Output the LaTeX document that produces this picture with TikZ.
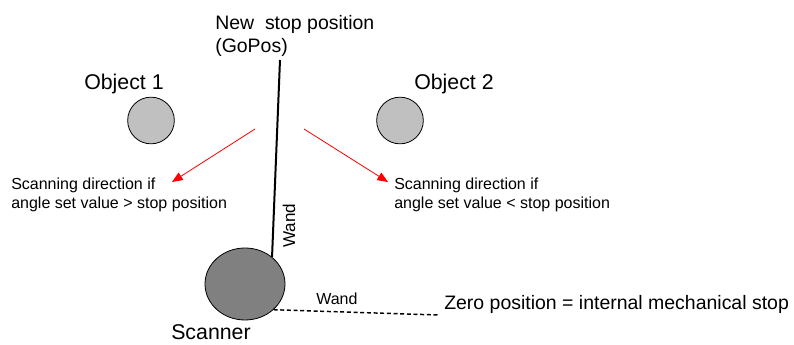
\documentclass[tikz,border=0pt]{standalone}
\usepackage{fontspec}
\setmainfont{Liberation Sans}
\usetikzlibrary{arrows.meta,shapes.geometric}
\definecolor{objgray}{RGB}{192,192,192}
\definecolor{scangray}{RGB}{128,128,128}

\begin{document}
\begin{tikzpicture}[
    x=0.75pt, y=-0.75pt,
    object/.style={
        circle,
        draw,
        fill=objgray,
        minimum size=35pt,
        inner sep=0pt,
        line width=0.6pt
    },
    scannerbody/.style={
        ellipse,
        draw,
        fill=scangray,
        minimum width=60pt,
        minimum height=54pt,
        inner sep=0pt,
        line width=0.6pt
    },
    biglabel/.style={font=\fontsize{16}{19}\selectfont, inner sep=0pt},
    midlabel/.style={font=\fontsize{14.6}{17.25}\selectfont, inner sep=0pt, align=left},
    smalllabel/.style={font=\fontsize{12}{14.25}\selectfont, inner sep=0pt, align=left},
    scanarrow/.style={red, line width=0.6pt, -{Triangle[length=8pt,width=6.5pt]}},
    wandline/.style={line width=1.5pt},
    zeroline/.style={dash pattern=on 3pt off 2pt, line width=1.1pt}
]
\useasboundingbox (0,0) rectangle (794,345);

% objects and scanner
\node[object] (obj1) at (151,120.5) {};
\node[object] (obj2) at (400,120.5) {};
\node[scannerbody] (scanner) at (245,284) {};

\node[biglabel, anchor=base west] (obj1label) at (84,90) {Object 1};
\node[biglabel, anchor=base west] (obj2label) at (414,90) {Object 2};
\node[biglabel, anchor=base west] (scannerlabel) at (171,340) {Scanner};

% wand at new stop position
\node[midlabel, anchor=north west] (gopos) at (215,15)
{New\ \ stop position\\(GoPos)};
\coordinate (wandtop) at (280,60);
\draw[wandline] (scanner.45) -- (wandtop);
\node[smalllabel, font=\fontsize{12.8}{15}\selectfont, anchor=base west, rotate=90]
  (wandlabel) at (295,248) {Wand};

% wand at zero position
\node[midlabel, anchor=base west] (zero) at (444,310)
{Zero position = internal mechanical stop};
\coordinate (zeroend) at (438,315);
\draw[zeroline] (scanner.-42) -- (zeroend);
\node[smalllabel, anchor=base west] (zerowand) at (316,305) {Wand};

% scanning directions
\coordinate (leftfrom) at (255,129);
\coordinate (leftto) at (172,182);
\coordinate (rightfrom) at (304,129);
\coordinate (rightto) at (388,182);
\draw[scanarrow] (leftfrom) -- (leftto);
\draw[scanarrow] (rightfrom) -- (rightto);

\node[smalllabel, anchor=north west] (leftdir) at (11,178)
{Scanning direction if\\angle set value > stop position};
\node[smalllabel, anchor=north west] (rightdir) at (394,178)
{Scanning direction if\\angle set value < stop position};

\end{tikzpicture}
\end{document}
